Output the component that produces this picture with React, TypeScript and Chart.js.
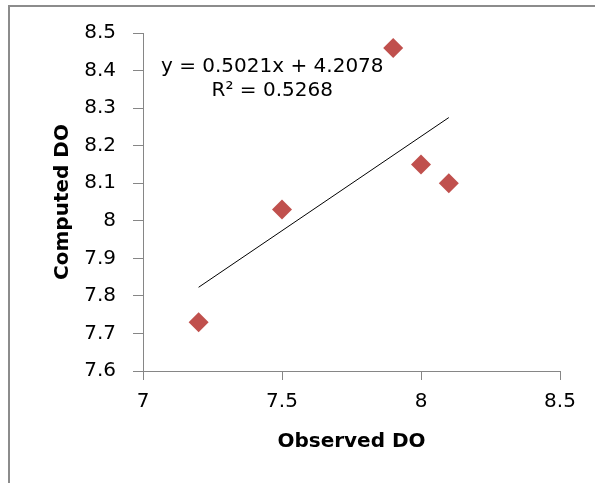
import React, { useEffect, useRef } from "react";
import { Chart, registerables } from "chart.js";

Chart.register(...registerables);

// ---- data ----
const observedDO = [7.2, 7.5, 7.9, 8.0, 8.1];
const computedDO = [7.73, 8.03, 8.46, 8.15, 8.1];
const trendSlope = 0.5021;
const trendIntercept = 4.2078;
const trendXRange = [7.2, 8.1];
const xTickValues = [7, 7.5, 8, 8.5];
const yTickValues = [7.6, 7.7, 7.8, 7.9, 8, 8.1, 8.2, 8.3, 8.4, 8.5];
const xTitle = "Observed DO";
const yTitle = "Computed DO";
const equationLines = ["y = 0.5021x + 4.2078", "R² = 0.5268"];
const equationAnchor = { x: 7.465, y: [8.41, 8.346] };

const FONT = "'DejaVu Sans', sans-serif";
const POINT_COLOR = "#C0504D";
const AXIS_COLOR = "#868686";

const equationPlugin = {
  id: "equationLabel",
  afterDatasetsDraw(chart: any) {
    const { ctx, scales } = chart;
    const px = scales.x.getPixelForValue(equationAnchor.x);
    ctx.save();
    ctx.fillStyle = "#000";
    ctx.font = `20px ${FONT}`;
    ctx.textAlign = "center";
    ctx.textBaseline = "middle";
    equationLines.forEach((line, i) => {
      const py = scales.y.getPixelForValue(equationAnchor.y[i]);
      ctx.fillText(line, px, py);
    });
    ctx.restore();
  },
};

export default function App() {
  const canvasRef = useRef<HTMLCanvasElement | null>(null);

  useEffect(() => {
    if (!canvasRef.current) return;
    const scatterData = observedDO.map((x, i) => ({ x, y: computedDO[i] }));
    const trendData = trendXRange.map((x) => ({ x, y: trendSlope * x + trendIntercept }));

    const chart = new Chart(canvasRef.current, {
      type: "scatter",
      data: {
        datasets: [
          {
            type: "line",
            data: trendData,
            borderColor: "#000",
            borderWidth: 1,
            pointRadius: 0,
            fill: false,
            order: 2,
          } as any,
          {
            type: "scatter",
            data: scatterData,
            backgroundColor: POINT_COLOR,
            borderColor: POINT_COLOR,
            borderWidth: 0,
            pointStyle: "rectRot",
            pointRadius: 10,
            order: 1,
          } as any,
        ],
      },
      options: {
        responsive: false,
        animation: false,
        events: [],
        layout: { padding: { left: 0, top: 33, right: 35, bottom: 0 } },
        plugins: { legend: { display: false }, tooltip: { enabled: false } },
        scales: {
          x: {
            type: "linear",
            min: xTickValues[0],
            max: xTickValues[xTickValues.length - 1],
            afterBuildTicks: (s: any) => {
              s.ticks = xTickValues.map((v) => ({ value: v }));
            },
            afterFit: (s: any) => {
              s.height = 112;
            },
            ticks: {
              color: "#000",
              font: { family: FONT, size: 20 },
              padding: 10,
              maxRotation: 0,
              callback: (v: any) => String(v),
            },
            grid: {
              drawOnChartArea: false,
              drawTicks: true,
              tickLength: 9,
              color: AXIS_COLOR,
            },
            border: { display: true, color: AXIS_COLOR, width: 1 },
            title: {
              display: true,
              text: xTitle,
              color: "#000",
              font: { family: FONT, size: 20, weight: "bold" },
              padding: { top: 0, bottom: 29 },
            },
          },
          y: {
            type: "linear",
            min: yTickValues[0],
            max: yTickValues[yTickValues.length - 1],
            afterBuildTicks: (s: any) => {
              s.ticks = yTickValues.map((v) => ({ value: v }));
            },
            afterFit: (s: any) => {
              s.width = 143;
            },
            ticks: {
              color: "#000",
              font: { family: FONT, size: 20 },
              padding: 17,
              callback: (v: any) => String(v),
            },
            grid: {
              drawOnChartArea: false,
              drawTicks: true,
              tickLength: 10,
              color: AXIS_COLOR,
            },
            border: { display: true, color: AXIS_COLOR, width: 1 },
            title: {
              display: true,
              text: yTitle,
              color: "#000",
              font: { family: FONT, size: 20, weight: "bold" },
              padding: { top: 51, bottom: 0 },
            },
          },
        },
      } as any,
      plugins: [equationPlugin],
    });
    return () => chart.destroy();
  }, []);

  return (
    <div
      style={{
        position: "absolute",
        left: 0,
        top: 0,
        width: 595,
        height: 483,
        overflow: "hidden",
        background: "#fff",
      }}
    >
      <div
        style={{
          position: "absolute",
          left: 8,
          top: 5,
          width: 620,
          height: 520,
          borderTop: "2px solid #8c8c8c",
          borderLeft: "2px solid #8c8c8c",
        }}
      />
      <canvas
        ref={canvasRef}
        width={595}
        height={483}
        style={{ position: "absolute", left: 0, top: 0, width: 595, height: 483 }}
      />
    </div>
  );
}
